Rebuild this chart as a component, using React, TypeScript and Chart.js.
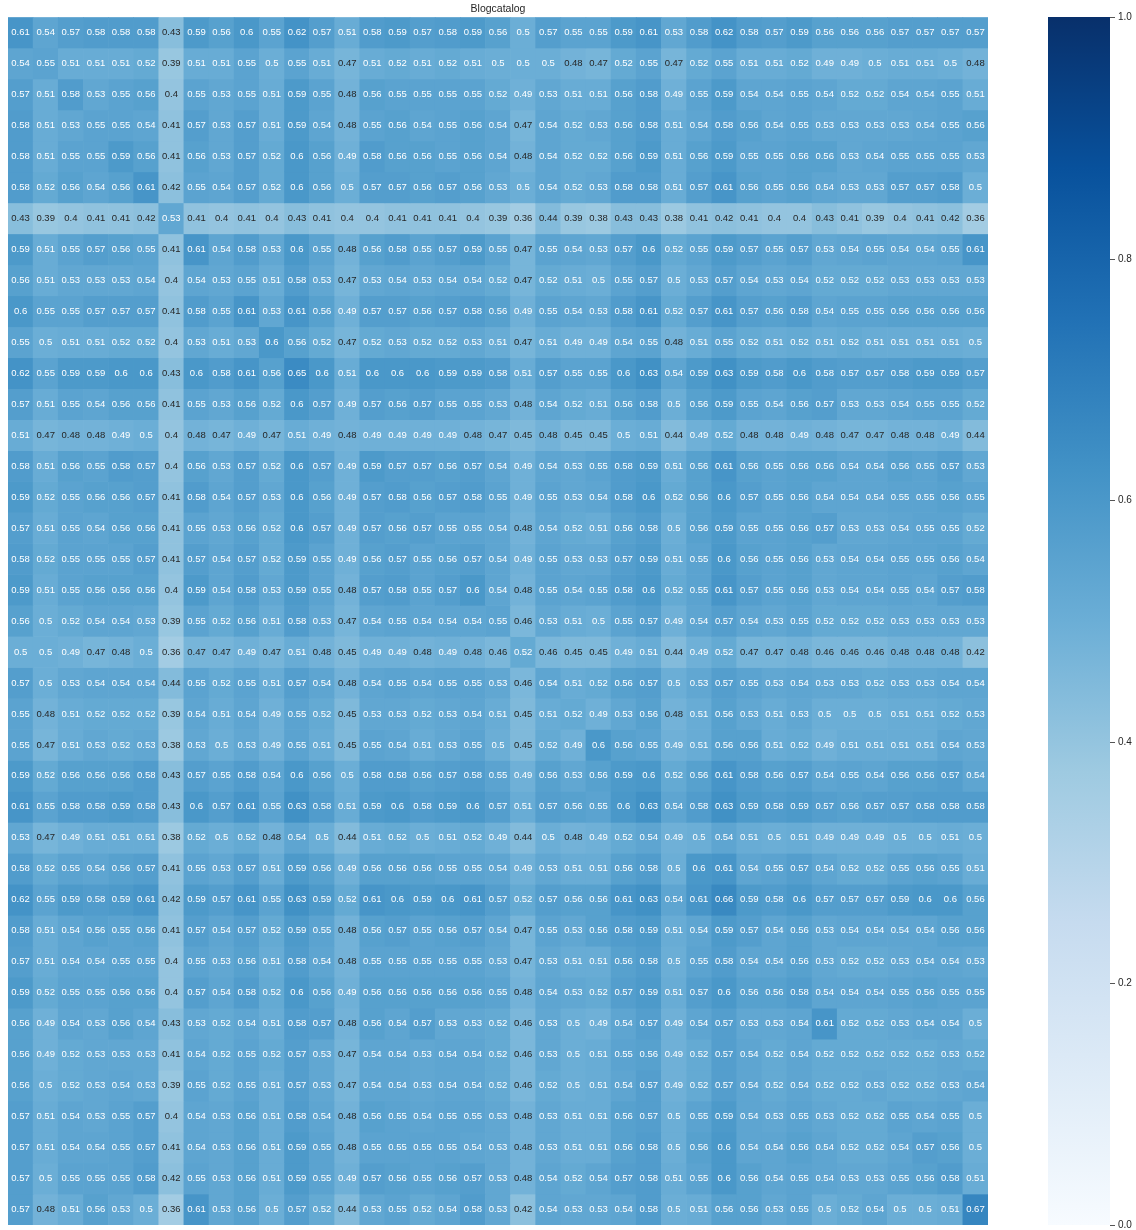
import React, { useEffect, useRef } from 'react';
import { Chart, registerables } from 'chart.js';

Chart.register(...registerables);

const TITLE = 'Blogcatalog';
const COLUMNS = Array.from({ length: 39 }, (_, i) => String(i));
const CBAR_TICKS = [0, 0.2, 0.4, 0.6, 0.8, 1.0];
const DARK_TEXT_MAX = 0.48;

const ROW_00 = [0.61,0.54,0.57,0.58,0.58,0.58,0.43,0.59,0.56,0.6,0.55,0.62,0.57,0.51,0.58,0.59,0.57,0.58,0.59,0.56,0.5,0.57,0.55,0.55,0.59,0.61,0.53,0.58,0.62,0.58,0.57,0.59,0.56,0.56,0.56,0.57,0.57,0.57,0.57];
const ROW_01 = [0.54,0.55,0.51,0.51,0.51,0.52,0.39,0.51,0.51,0.55,0.5,0.55,0.51,0.47,0.51,0.52,0.51,0.52,0.51,0.5,0.5,0.5,0.48,0.47,0.52,0.55,0.47,0.52,0.55,0.51,0.51,0.52,0.49,0.49,0.5,0.51,0.51,0.5,0.48];
const ROW_02 = [0.57,0.51,0.58,0.53,0.55,0.56,0.4,0.55,0.53,0.55,0.51,0.59,0.55,0.48,0.56,0.55,0.55,0.55,0.55,0.52,0.49,0.53,0.51,0.51,0.56,0.58,0.49,0.55,0.59,0.54,0.54,0.55,0.54,0.52,0.52,0.54,0.54,0.55,0.51];
const ROW_03 = [0.58,0.51,0.53,0.55,0.55,0.54,0.41,0.57,0.53,0.57,0.51,0.59,0.54,0.48,0.55,0.56,0.54,0.55,0.56,0.54,0.47,0.54,0.52,0.53,0.56,0.58,0.51,0.54,0.58,0.56,0.54,0.55,0.53,0.53,0.53,0.53,0.54,0.55,0.56];
const ROW_04 = [0.58,0.51,0.55,0.55,0.59,0.56,0.41,0.56,0.53,0.57,0.52,0.6,0.56,0.49,0.58,0.56,0.56,0.55,0.56,0.54,0.48,0.54,0.52,0.52,0.56,0.59,0.51,0.56,0.59,0.55,0.55,0.56,0.56,0.53,0.54,0.55,0.55,0.55,0.53];
const ROW_05 = [0.58,0.52,0.56,0.54,0.56,0.61,0.42,0.55,0.54,0.57,0.52,0.6,0.56,0.5,0.57,0.57,0.56,0.57,0.56,0.53,0.5,0.54,0.52,0.53,0.58,0.58,0.51,0.57,0.61,0.56,0.55,0.56,0.54,0.53,0.53,0.57,0.57,0.58,0.5];
const ROW_06 = [0.43,0.39,0.4,0.41,0.41,0.42,0.53,0.41,0.4,0.41,0.4,0.43,0.41,0.4,0.4,0.41,0.41,0.41,0.4,0.39,0.36,0.44,0.39,0.38,0.43,0.43,0.38,0.41,0.42,0.41,0.4,0.4,0.43,0.41,0.39,0.4,0.41,0.42,0.36];
const ROW_07 = [0.59,0.51,0.55,0.57,0.56,0.55,0.41,0.61,0.54,0.58,0.53,0.6,0.55,0.48,0.56,0.58,0.55,0.57,0.59,0.55,0.47,0.55,0.54,0.53,0.57,0.6,0.52,0.55,0.59,0.57,0.55,0.57,0.53,0.54,0.55,0.54,0.54,0.55,0.61];
const ROW_08 = [0.56,0.51,0.53,0.53,0.53,0.54,0.4,0.54,0.53,0.55,0.51,0.58,0.53,0.47,0.53,0.54,0.53,0.54,0.54,0.52,0.47,0.52,0.51,0.5,0.55,0.57,0.5,0.53,0.57,0.54,0.53,0.54,0.52,0.52,0.52,0.53,0.53,0.53,0.53];
const ROW_09 = [0.6,0.55,0.55,0.57,0.57,0.57,0.41,0.58,0.55,0.61,0.53,0.61,0.56,0.49,0.57,0.57,0.56,0.57,0.58,0.56,0.49,0.55,0.54,0.53,0.58,0.61,0.52,0.57,0.61,0.57,0.56,0.58,0.54,0.55,0.55,0.56,0.56,0.56,0.56];
const ROW_10 = [0.55,0.5,0.51,0.51,0.52,0.52,0.4,0.53,0.51,0.53,0.6,0.56,0.52,0.47,0.52,0.53,0.52,0.52,0.53,0.51,0.47,0.51,0.49,0.49,0.54,0.55,0.48,0.51,0.55,0.52,0.51,0.52,0.51,0.52,0.51,0.51,0.51,0.51,0.5];
const ROW_11 = [0.62,0.55,0.59,0.59,0.6,0.6,0.43,0.6,0.58,0.61,0.56,0.65,0.6,0.51,0.6,0.6,0.6,0.59,0.59,0.58,0.51,0.57,0.55,0.55,0.6,0.63,0.54,0.59,0.63,0.59,0.58,0.6,0.58,0.57,0.57,0.58,0.59,0.59,0.57];
const ROW_12 = [0.57,0.51,0.55,0.54,0.56,0.56,0.41,0.55,0.53,0.56,0.52,0.6,0.57,0.49,0.57,0.56,0.57,0.55,0.55,0.53,0.48,0.54,0.52,0.51,0.56,0.58,0.5,0.56,0.59,0.55,0.54,0.56,0.57,0.53,0.53,0.54,0.55,0.55,0.52];
const ROW_13 = [0.51,0.47,0.48,0.48,0.49,0.5,0.4,0.48,0.47,0.49,0.47,0.51,0.49,0.48,0.49,0.49,0.49,0.49,0.48,0.47,0.45,0.48,0.45,0.45,0.5,0.51,0.44,0.49,0.52,0.48,0.48,0.49,0.48,0.47,0.47,0.48,0.48,0.49,0.44];
const ROW_14 = [0.58,0.51,0.56,0.55,0.58,0.57,0.4,0.56,0.53,0.57,0.52,0.6,0.57,0.49,0.59,0.57,0.57,0.56,0.57,0.54,0.49,0.54,0.53,0.55,0.58,0.59,0.51,0.56,0.61,0.56,0.55,0.56,0.56,0.54,0.54,0.56,0.55,0.57,0.53];
const ROW_15 = [0.59,0.52,0.55,0.56,0.56,0.57,0.41,0.58,0.54,0.57,0.53,0.6,0.56,0.49,0.57,0.58,0.56,0.57,0.58,0.55,0.49,0.55,0.53,0.54,0.58,0.6,0.52,0.56,0.6,0.57,0.55,0.56,0.54,0.54,0.54,0.55,0.55,0.56,0.55];
const ROW_16 = [0.57,0.51,0.55,0.54,0.56,0.56,0.41,0.55,0.53,0.56,0.52,0.6,0.57,0.49,0.57,0.56,0.57,0.55,0.55,0.54,0.48,0.54,0.52,0.51,0.56,0.58,0.5,0.56,0.59,0.55,0.55,0.56,0.57,0.53,0.53,0.54,0.55,0.55,0.52];
const ROW_17 = [0.58,0.52,0.55,0.55,0.55,0.57,0.41,0.57,0.54,0.57,0.52,0.59,0.55,0.49,0.56,0.57,0.55,0.56,0.57,0.54,0.49,0.55,0.53,0.53,0.57,0.59,0.51,0.55,0.6,0.56,0.55,0.56,0.53,0.54,0.54,0.55,0.55,0.56,0.54];
const ROW_18 = [0.59,0.51,0.55,0.56,0.56,0.56,0.4,0.59,0.54,0.58,0.53,0.59,0.55,0.48,0.57,0.58,0.55,0.57,0.6,0.54,0.48,0.55,0.54,0.55,0.58,0.6,0.52,0.55,0.61,0.57,0.55,0.56,0.53,0.54,0.54,0.55,0.54,0.57,0.58];
const ROW_19 = [0.56,0.5,0.52,0.54,0.54,0.53,0.39,0.55,0.52,0.56,0.51,0.58,0.53,0.47,0.54,0.55,0.54,0.54,0.54,0.55,0.46,0.53,0.51,0.5,0.55,0.57,0.49,0.54,0.57,0.54,0.53,0.55,0.52,0.52,0.52,0.53,0.53,0.53,0.53];
const ROW_20 = [0.5,0.5,0.49,0.47,0.48,0.5,0.36,0.47,0.47,0.49,0.47,0.51,0.48,0.45,0.49,0.49,0.48,0.49,0.48,0.46,0.52,0.46,0.45,0.45,0.49,0.51,0.44,0.49,0.52,0.47,0.47,0.48,0.46,0.46,0.46,0.48,0.48,0.48,0.42];
const ROW_21 = [0.57,0.5,0.53,0.54,0.54,0.54,0.44,0.55,0.52,0.55,0.51,0.57,0.54,0.48,0.54,0.55,0.54,0.55,0.55,0.53,0.46,0.54,0.51,0.52,0.56,0.57,0.5,0.53,0.57,0.55,0.53,0.54,0.53,0.53,0.52,0.53,0.53,0.54,0.54];
const ROW_22 = [0.55,0.48,0.51,0.52,0.52,0.52,0.39,0.54,0.51,0.54,0.49,0.55,0.52,0.45,0.53,0.53,0.52,0.53,0.54,0.51,0.45,0.51,0.52,0.49,0.53,0.56,0.48,0.51,0.56,0.53,0.51,0.53,0.5,0.5,0.5,0.51,0.51,0.52,0.53];
const ROW_23 = [0.55,0.47,0.51,0.53,0.52,0.53,0.38,0.53,0.5,0.53,0.49,0.55,0.51,0.45,0.55,0.54,0.51,0.53,0.55,0.5,0.45,0.52,0.49,0.6,0.56,0.55,0.49,0.51,0.56,0.56,0.51,0.52,0.49,0.51,0.51,0.51,0.51,0.54,0.53];
const ROW_24 = [0.59,0.52,0.56,0.56,0.56,0.58,0.43,0.57,0.55,0.58,0.54,0.6,0.56,0.5,0.58,0.58,0.56,0.57,0.58,0.55,0.49,0.56,0.53,0.56,0.59,0.6,0.52,0.56,0.61,0.58,0.56,0.57,0.54,0.55,0.54,0.56,0.56,0.57,0.54];
const ROW_25 = [0.61,0.55,0.58,0.58,0.59,0.58,0.43,0.6,0.57,0.61,0.55,0.63,0.58,0.51,0.59,0.6,0.58,0.59,0.6,0.57,0.51,0.57,0.56,0.55,0.6,0.63,0.54,0.58,0.63,0.59,0.58,0.59,0.57,0.56,0.57,0.57,0.58,0.58,0.58];
const ROW_26 = [0.53,0.47,0.49,0.51,0.51,0.51,0.38,0.52,0.5,0.52,0.48,0.54,0.5,0.44,0.51,0.52,0.5,0.51,0.52,0.49,0.44,0.5,0.48,0.49,0.52,0.54,0.49,0.5,0.54,0.51,0.5,0.51,0.49,0.49,0.49,0.5,0.5,0.51,0.5];
const ROW_27 = [0.58,0.52,0.55,0.54,0.56,0.57,0.41,0.55,0.53,0.57,0.51,0.59,0.56,0.49,0.56,0.56,0.56,0.55,0.55,0.54,0.49,0.53,0.51,0.51,0.56,0.58,0.5,0.6,0.61,0.54,0.55,0.57,0.54,0.52,0.52,0.55,0.56,0.55,0.51];
const ROW_28 = [0.62,0.55,0.59,0.58,0.59,0.61,0.42,0.59,0.57,0.61,0.55,0.63,0.59,0.52,0.61,0.6,0.59,0.6,0.61,0.57,0.52,0.57,0.56,0.56,0.61,0.63,0.54,0.61,0.66,0.59,0.58,0.6,0.57,0.57,0.57,0.59,0.6,0.6,0.56];
const ROW_29 = [0.58,0.51,0.54,0.56,0.55,0.56,0.41,0.57,0.54,0.57,0.52,0.59,0.55,0.48,0.56,0.57,0.55,0.56,0.57,0.54,0.47,0.55,0.53,0.56,0.58,0.59,0.51,0.54,0.59,0.57,0.54,0.56,0.53,0.54,0.54,0.54,0.54,0.56,0.56];
const ROW_30 = [0.57,0.51,0.54,0.54,0.55,0.55,0.4,0.55,0.53,0.56,0.51,0.58,0.54,0.48,0.55,0.55,0.55,0.55,0.55,0.53,0.47,0.53,0.51,0.51,0.56,0.58,0.5,0.55,0.58,0.54,0.54,0.56,0.53,0.52,0.52,0.53,0.54,0.54,0.53];
const ROW_31 = [0.59,0.52,0.55,0.55,0.56,0.56,0.4,0.57,0.54,0.58,0.52,0.6,0.56,0.49,0.56,0.56,0.56,0.56,0.56,0.55,0.48,0.54,0.53,0.52,0.57,0.59,0.51,0.57,0.6,0.56,0.56,0.58,0.54,0.54,0.54,0.55,0.56,0.55,0.55];
const ROW_32 = [0.56,0.49,0.54,0.53,0.56,0.54,0.43,0.53,0.52,0.54,0.51,0.58,0.57,0.48,0.56,0.54,0.57,0.53,0.53,0.52,0.46,0.53,0.5,0.49,0.54,0.57,0.49,0.54,0.57,0.53,0.53,0.54,0.61,0.52,0.52,0.53,0.54,0.54,0.5];
const ROW_33 = [0.56,0.49,0.52,0.53,0.53,0.53,0.41,0.54,0.52,0.55,0.52,0.57,0.53,0.47,0.54,0.54,0.53,0.54,0.54,0.52,0.46,0.53,0.5,0.51,0.55,0.56,0.49,0.52,0.57,0.54,0.52,0.54,0.52,0.52,0.52,0.52,0.52,0.53,0.52];
const ROW_34 = [0.56,0.5,0.52,0.53,0.54,0.53,0.39,0.55,0.52,0.55,0.51,0.57,0.53,0.47,0.54,0.54,0.53,0.54,0.54,0.52,0.46,0.52,0.5,0.51,0.54,0.57,0.49,0.52,0.57,0.54,0.52,0.54,0.52,0.52,0.53,0.52,0.52,0.53,0.54];
const ROW_35 = [0.57,0.51,0.54,0.53,0.55,0.57,0.4,0.54,0.53,0.56,0.51,0.58,0.54,0.48,0.56,0.55,0.54,0.55,0.55,0.53,0.48,0.53,0.51,0.51,0.56,0.57,0.5,0.55,0.59,0.54,0.53,0.55,0.53,0.52,0.52,0.55,0.54,0.55,0.5];
const ROW_36 = [0.57,0.51,0.54,0.54,0.55,0.57,0.41,0.54,0.53,0.56,0.51,0.59,0.55,0.48,0.55,0.55,0.55,0.55,0.54,0.53,0.48,0.53,0.51,0.51,0.56,0.58,0.5,0.56,0.6,0.54,0.54,0.56,0.54,0.52,0.52,0.54,0.57,0.56,0.5];
const ROW_37 = [0.57,0.5,0.55,0.55,0.55,0.58,0.42,0.55,0.53,0.56,0.51,0.59,0.55,0.49,0.57,0.56,0.55,0.56,0.57,0.53,0.48,0.54,0.52,0.54,0.57,0.58,0.51,0.55,0.6,0.56,0.54,0.55,0.54,0.53,0.53,0.55,0.56,0.58,0.51];
const ROW_38 = [0.57,0.48,0.51,0.56,0.53,0.5,0.36,0.61,0.53,0.56,0.5,0.57,0.52,0.44,0.53,0.55,0.52,0.54,0.58,0.53,0.42,0.54,0.53,0.53,0.54,0.58,0.5,0.51,0.56,0.56,0.53,0.55,0.5,0.52,0.54,0.5,0.5,0.51,0.67];

const ROWS = [
  ROW_00, ROW_01, ROW_02, ROW_03, ROW_04, ROW_05, ROW_06, ROW_07, ROW_08, ROW_09,
  ROW_10, ROW_11, ROW_12, ROW_13, ROW_14, ROW_15, ROW_16, ROW_17, ROW_18, ROW_19,
  ROW_20, ROW_21, ROW_22, ROW_23, ROW_24, ROW_25, ROW_26, ROW_27, ROW_28, ROW_29,
  ROW_30, ROW_31, ROW_32, ROW_33, ROW_34, ROW_35, ROW_36, ROW_37, ROW_38,
];

const BLUES = ['#f7fbff', '#deebf7', '#c6dbef', '#9ecae1', '#6baed6', '#4292c6', '#2171b5', '#08519c', '#08306b'];

function hexToRgb(h: string): number[] {
  return [parseInt(h.slice(1, 3), 16), parseInt(h.slice(3, 5), 16), parseInt(h.slice(5, 7), 16)];
}
const BLUES_RGB = BLUES.map(hexToRgb);

function blues(v: number): string {
  const t = Math.min(1, Math.max(0, v)) * (BLUES.length - 1);
  const i = Math.min(BLUES.length - 2, Math.floor(t));
  const f = t - i;
  const a = BLUES_RGB[i];
  const b = BLUES_RGB[i + 1];
  const c = a.map((x, k) => Math.round(x + (b[k] - x) * f));
  return `rgb(${c[0]},${c[1]},${c[2]})`;
}

function fmt(v: number): string {
  return String(Number(v.toPrecision(2)));
}

const FONT = '"Liberation Sans", Arial, sans-serif';
const TEXT_DARK = '#262626';

const cellTextPlugin = {
  id: 'cellText',
  afterDatasetsDraw(chart: any) {
    const { ctx } = chart;
    const xs = chart.scales.x;
    const ys = chart.scales.y;
    ctx.save();
    ctx.font = `9.5px ${FONT}`;
    ctx.textAlign = 'center';
    ctx.textBaseline = 'middle';
    ROWS.forEach((row, r) => {
      row.forEach((v, c) => {
        ctx.fillStyle = v <= DARK_TEXT_MAX ? TEXT_DARK : '#ffffff';
        ctx.fillText(fmt(v), xs.getPixelForValue(c), ys.getPixelForValue(r + 0.5));
      });
    });
    ctx.restore();
  },
};

const colorbarPlugin = {
  id: 'colorbar',
  afterDraw(chart: any) {
    const { ctx, chartArea } = chart;
    const s = chart.scales.cbar;
    const top = s.getPixelForValue(1);
    const bottom = s.getPixelForValue(0);
    const left = chartArea.right + 60;
    const width = 62;
    ctx.save();
    const g = ctx.createLinearGradient(0, bottom, 0, top);
    BLUES.forEach((col, i) => g.addColorStop(i / (BLUES.length - 1), col));
    ctx.fillStyle = g;
    ctx.fillRect(left, top, width, bottom - top);
    ctx.strokeStyle = '#555555';
    ctx.lineWidth = 1;
    ctx.fillStyle = TEXT_DARK;
    ctx.font = `10px ${FONT}`;
    ctx.textAlign = 'left';
    ctx.textBaseline = 'middle';
    CBAR_TICKS.forEach((t) => {
      const y = Math.round(s.getPixelForValue(t)) + 0.5;
      ctx.beginPath();
      ctx.moveTo(left + width, y);
      ctx.lineTo(left + width + 5, y);
      ctx.stroke();
      ctx.fillText(t.toFixed(1), left + width + 8, y);
    });
    ctx.restore();
  },
};

export default function App() {
  const ref = useRef<HTMLCanvasElement | null>(null);

  useEffect(() => {
    document.body.style.margin = '0';
    document.body.style.overflow = 'hidden';
    const canvas = ref.current;
    if (!canvas) return;
    const datasets = ROWS.map((row, r) => ({
      label: `row ${r}`,
      data: COLUMNS.map(() => [r, r + 1]),
      backgroundColor: row.map(blues),
      borderWidth: 0,
      grouped: false,
      barPercentage: 1,
      categoryPercentage: 1,
    }));
    const chart = new Chart(canvas, {
      type: 'bar',
      data: { labels: COLUMNS, datasets: datasets as any },
      options: {
        animation: false,
        responsive: false,
        devicePixelRatio: 1,
        layout: { padding: { left: 8, right: 148, top: 0, bottom: 5 } },
        plugins: {
          legend: { display: false },
          tooltip: { enabled: false },
          title: {
            display: true,
            text: TITLE,
            color: TEXT_DARK,
            font: { family: FONT, size: 10.5, weight: 'normal' },
            padding: { top: 3, bottom: 1.4 },
          },
        },
        scales: {
          x: {
            type: 'category',
            offset: true,
            z: 1,
            grid: { display: true, offset: true, color: '#ffffff', lineWidth: 1, drawTicks: false },
            ticks: { display: false },
            border: { display: false },
          },
          y: {
            type: 'linear',
            reverse: true,
            min: 0,
            max: ROWS.length,
            z: 1,
            grid: { display: true, color: '#ffffff', lineWidth: 1, drawTicks: false },
            ticks: { display: false, stepSize: 1 },
            border: { display: false },
          },
          cbar: {
            type: 'linear',
            position: 'right',
            min: 0,
            max: 1,
            display: false,
          },
        },
      } as any,
      plugins: [cellTextPlugin, colorbarPlugin],
    });
    return () => chart.destroy();
  }, []);

  return (
    <div style={{ width: 1136, height: 1230 }}>
      <canvas ref={ref} width={1136} height={1230} style={{ display: 'block' }} />
    </div>
  );
}
